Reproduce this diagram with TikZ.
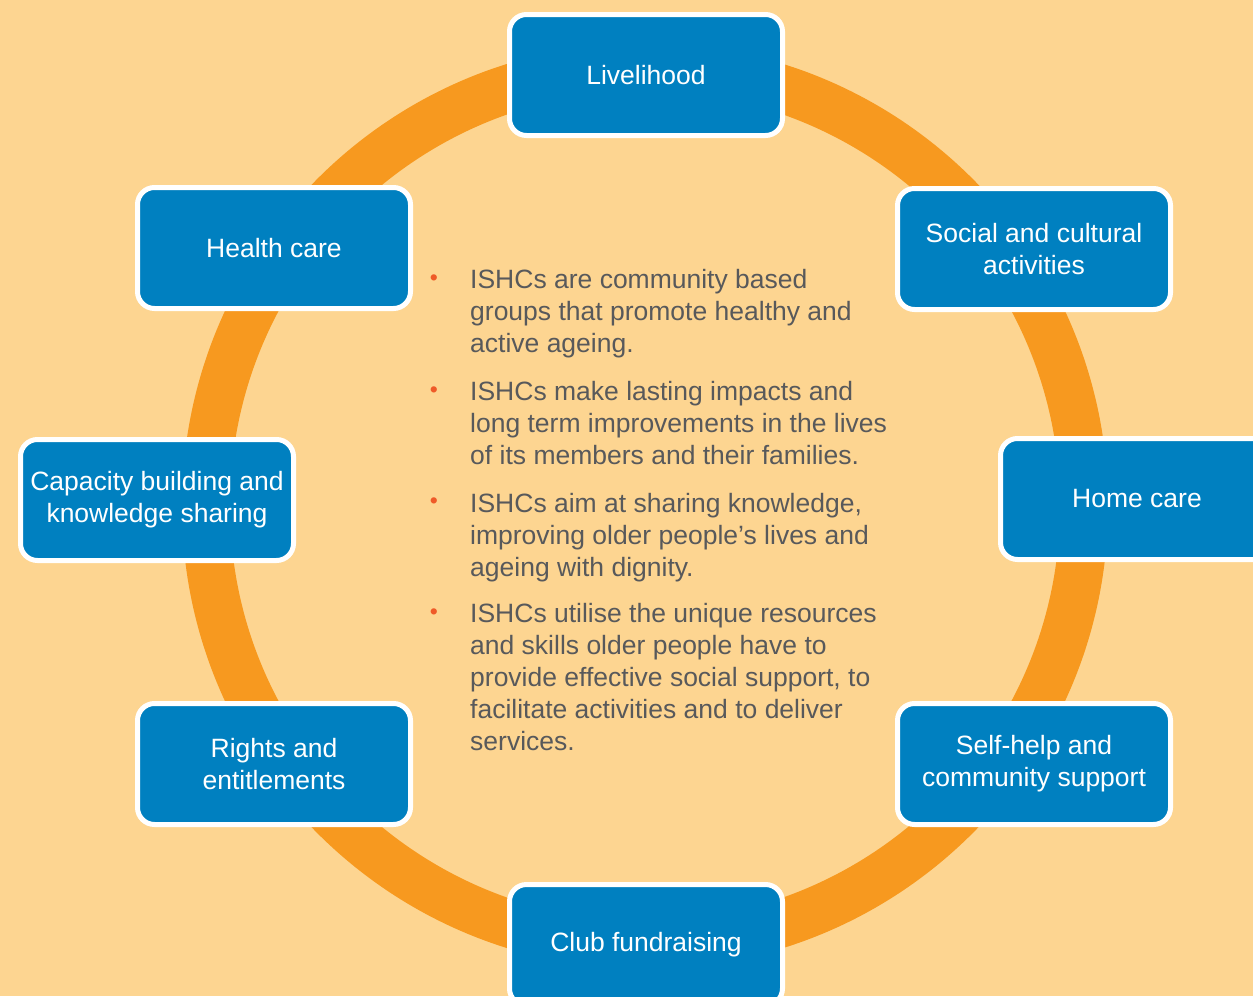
\documentclass[tikz,border=0pt]{standalone}
\usepackage{fontspec}
\setmainfont{Liberation Sans}
\usepackage{tikz}

\definecolor{peach}{HTML}{FDD591}
\definecolor{ringorange}{HTML}{F7991F}
\definecolor{boxblue}{HTML}{0080C0}
\definecolor{bodygrey}{HTML}{58595B}
\definecolor{dotred}{HTML}{EF5A28}

\begin{document}
\begin{tikzpicture}[x=1pt,y=-1pt,
    area/.style={fill=boxblue, draw=white, line width=5pt, rounded corners=17pt,
      minimum width=273pt, minimum height=121pt, inner sep=0pt,
      text=white, align=center, font=\fontsize{26.5}{32}\selectfont},
    point/.style={anchor=base west, align=left, inner sep=0pt, text=bodygrey,
      font=\fontsize{26.5}{32}\selectfont},
    dot/.style={inner sep=0pt, text=dotred, font=\fontsize{23}{23}\selectfont}]
    \clip (0,0) rectangle (1253,996);
    \fill[peach] (0,0) rectangle (1253,996);
    \draw[ringorange, line width=48pt] (645,506) circle[radius=439pt];

    \node[area] (livelihood) at (646,75) {Livelihood};
    \node[area] (social) at (1034,249) {Social and cultural\\activities};
    \node[area] (homecare) at (1137,499) {Home care};
    \node[area] (selfhelp) at (1034,764) {Self-help and\\community support};
    \node[area] (fundraising) at (646,945) {Club fundraising};
    \node[area] (rights) at (274,764) {Rights and\\entitlements};
    \node[area] (capacity) at (157,500) {Capacity building and\\knowledge sharing};
    \node[area] (healthcare) at (274,248) {Health care};

    % base anchor sits on the last line
    \node[point] (p1) at (470,352) {ISHCs are community based\\groups that promote healthy and\\active ageing.};
    \node[point] (p2) at (470,464) {ISHCs make lasting impacts and\\long term improvements in the lives\\of its members and their families.};
    \node[point] (p3) at (470,576) {ISHCs aim at sharing knowledge,\\improving older people’s lives and\\ageing with dignity.};
    \node[point] (p4) at (470,750) {ISHCs utilise the unique resources\\and skills older people have to\\provide effective social support, to\\facilitate activities and to deliver\\services.};
    \foreach \y [count=\i] in {280,392,503,614}
      \node[dot] (d\i) at (434,\y) {\textbullet};
\end{tikzpicture}
\end{document}
